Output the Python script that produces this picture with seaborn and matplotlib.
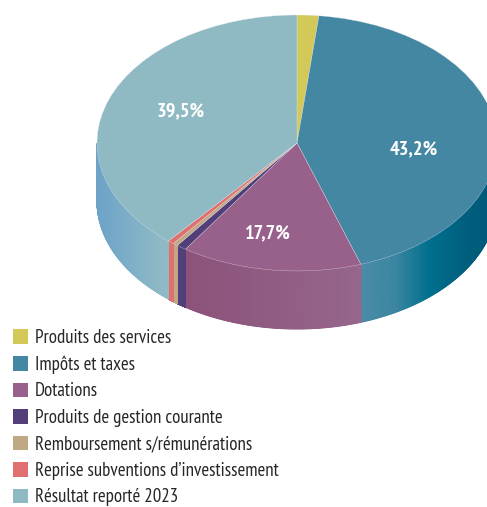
import matplotlib
matplotlib.use("Agg")
import matplotlib.pyplot as plt
from matplotlib.colors import LinearSegmentedColormap
from matplotlib.patches import Patch
import numpy as np
import seaborn as sns

categories = [
    "Produits des services",
    "Impôts et taxes",
    "Dotations",
    "Produits de gestion courante",
    "Remboursement s/rémunérations",
    "Reprise subventions d’investissement",
    "Résultat reporté 2023",
]
# slice shares as drawn in the picture
shares = [1.75, 43.1, 14.6, 0.8, 0.4, 0.5, 38.9]
top_colors = ["#d2c958", "#4487a3", "#98618c", "#523f7a", "#bfa985", "#e06f70", "#90bac3"]
wall_colors = [
    ["#d2c958", "#d2c958"],
    ["#4b8ba6", "#3c86a2", "#01708f", "#00607f", "#005877"],
    ["#8c527a", "#96668c"],
    ["#523f7a", "#523f7a"],
    ["#bfa985", "#bfa985"],
    ["#e06f70", "#e06f70"],
    ["#6ea3c8", "#7fb0c8", "#92bcc4"],
]
value_labels = ["43,2%", "17,7%", "39,5%"]
label_pixels = [(414, 149), (268, 233), (181, 111)]

W, H = 487, 507
CX, CY, RX, RY = 297, 143, 200, 128
DEPTH = 58 / RY
FONT = ["PT Sans Narrow", "Lato", "DejaVu Sans"]

sns.set_theme(style="white")
plt.rcParams["font.family"] = FONT


def px(x, y):
    return (x - CX) / RX, (CY - y) / RY


fig = plt.figure(figsize=(W / 100, H / 100), dpi=100)
ax = fig.add_axes([0, 0, 1, 1])

palette = sns.color_palette(top_colors)
ax.pie(
    shares,
    colors=palette,
    startangle=90,
    counterclock=False,
    wedgeprops={"edgecolor": "#e8e8ee", "linewidth": 0.2, "zorder": 3},
)

# side wall, only the part of each slice on the front half
edges = np.cumsum([0] + shares) / sum(shares) * 360
for i in range(len(shares)):
    a0 = max(edges[i], 90)
    a1 = min(edges[i + 1], 270)
    if a1 <= a0:
        continue
    ang = np.radians(np.linspace(a0, a1, 200))
    xs = np.sin(ang)
    ys = np.cos(ang)
    X = np.vstack([xs, xs])
    Y = np.vstack([ys, ys - DEPTH])
    frac = (xs - xs.min()) / max(xs.max() - xs.min(), 1e-6)
    C = np.vstack([frac, frac])
    cmap = LinearSegmentedColormap.from_list(f"wall{i}", wall_colors[i])
    ax.pcolormesh(X, Y, C, cmap=cmap, shading="gouraud", vmin=0, vmax=1, zorder=1)

for text, (lx, ly) in zip(value_labels, label_pixels):
    ax.text(*px(lx, ly), text, color="white", fontsize=14.6, fontweight="bold",
            ha="center", va="center", zorder=5)

ax.set_aspect("auto")
ax.set_xlim(px(0, 0)[0], px(W, 0)[0])
ax.set_ylim(px(0, H)[1], px(0, 0)[1])
ax.axis("off")

handles = [Patch(facecolor=c, edgecolor="none") for c in palette]
ax.legend(
    handles,
    categories,
    loc="upper left",
    bbox_to_anchor=(12.5 / W, 1 - 329 / H),
    borderaxespad=0,
    borderpad=0,
    frameon=False,
    fontsize=13.6,
    handlelength=0.82,
    handleheight=0.82,
    handletextpad=0.37,
    labelspacing=0.45,
)

fig.savefig("out.png", dpi=100)
plt.close(fig)
